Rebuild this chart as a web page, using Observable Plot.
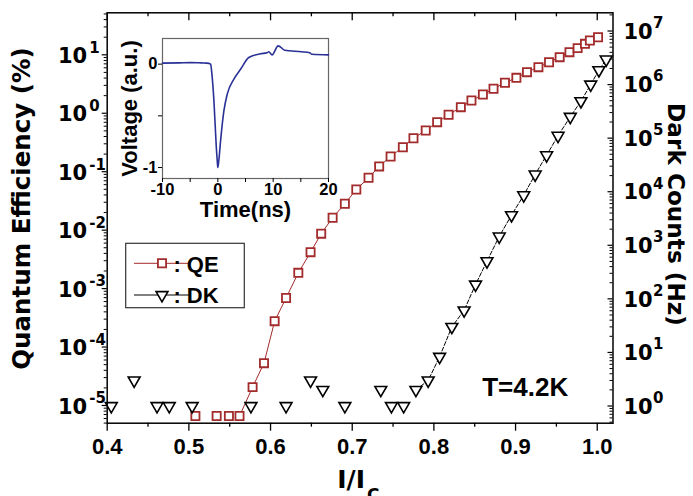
<!DOCTYPE html>
<html><head><meta charset="utf-8">
<script src="https://cdn.jsdelivr.net/npm/d3@7"></script>
<script src="https://cdn.jsdelivr.net/npm/@observablehq/plot@0.6"></script>
<style>
html,body{margin:0;padding:0;background:#fff}
#wrap{position:relative;width:693px;height:496px;overflow:hidden;background:#fff}
#wrap svg{position:absolute}
</style></head><body><div id="wrap"></div>
<script>
// ---------------- data ----------------
const qeRatio = [0.508,0.534,0.549,0.562,0.578,0.592,0.605,0.619,0.634,0.649,0.662,0.676,0.691,0.705,0.720,0.733,0.747,0.762,0.775,0.790,0.804,0.818,0.833,0.846,0.860,0.873,0.887,0.901,0.914,0.928,0.941,0.954,0.966,0.976,0.985,0.991,1.001];
const qe = [6.6e-6,6.6e-6,6.6e-6,6.6e-6,2.06e-5,5.3e-5,2.77e-4,6.9e-4,1.86e-3,4.2e-3,8.7e-3,0.0163,0.0283,0.0496,0.0787,0.123,0.182,0.262,0.374,0.507,0.703,0.941,1.27,1.65,2.09,2.62,3.32,4.04,5.04,6.14,7.47,9.10,11.1,13.0,15.4,17.6,20.0];
const dkRatio = [0.405,0.433,0.461,0.476,0.504,0.576,0.619,0.649,0.664,0.691,0.735,0.748,0.763,0.778,0.793,0.807,0.822,0.837,0.851,0.865,0.880,0.895,0.910,0.924,0.938,0.952,0.967,0.980,0.992,1.002,1.011];
const dk = [1,3,1,1,1,1,1,3,2,1,2,1,1,2,3,8.3,30,61,185,505,1460,3650,8610,2.1e4,4.8e4,1.11e5,2.5e5,4.9e5,1.0e6,1.86e6,2.94e6];
const seriesNames = ["QE", "DK"];
const timeNs = [-10,-7,-5,-3,-2,-1.3,-1.1,-0.7,-0.3,-0.1,0,0.2,0.5,1.1,1.7,2.9,4.1,5.6,7.7,8.9,9.2,9.8,10.9,12.1,15.1,16.6,17,20];
const voltage = [0.01,0.012,0.015,0.012,0.01,0.0,-0.08,-0.36,-0.78,-0.94,-1.0,-0.92,-0.74,-0.45,-0.29,-0.145,-0.05,0.064,0.10,0.11,0.12,0.09,0.177,0.135,0.12,0.11,0.095,0.09];
const xMajor = [0.4,0.5,0.6,0.7,0.8,0.9,1.0];
const xMinor = [0.45,0.55,0.65,0.75,0.85,0.95];
const leftExp = [-5,-4,-3,-2,-1,0,1];
const rightExp = [0,1,2,3,4,5,6,7];
const insetXTicks = [-10,-5,0,5,10,15,20];
const insetYTicks = [-1,-0.5,0];
const titleLeft = "Quantum Efficiency (%)";
const titleRight = "Dark Counts (Hz)";
const annotation = "T=4.2K";

// ---------------- layout ----------------
const W = 693, H = 496;
const mL = 106.7, mR = 80.5, mT = 12.3, mB = 73.3;
const frameW = W - mL - mR, frameH = H - mT - mB;
const lLo = -5.303, lHi = 1.7186;   // left log10 domain
const rLo = -0.321, rHi = 7.34;     // right log10 domain
const toLeft = v => Math.pow(10, lLo + (Math.log10(v) - rLo) * (lHi - lLo) / (rHi - rLo));

const QE_COLOR = "#a32b2b";
const ARIAL = "'Liberation Sans', Arial, sans-serif";
const DEJAVU = "'DejaVu Sans', sans-serif";

const triDown = {
  draw(ctx, size) {
    const y = -Math.sqrt(size / (Math.sqrt(3) * 3));
    ctx.moveTo(0, -2 * y);
    ctx.lineTo(-Math.sqrt(3) * y, y);
    ctx.lineTo(Math.sqrt(3) * y, y);
    ctx.closePath();
  }
};

const yMajor = leftExp.map(e => Math.pow(10, e));
const yMinor = [];
for (let e = -6; e <= 1; e++) for (let m = 2; m <= 9; m++) {
  const v = m * Math.pow(10, e);
  if (Math.log10(v) > lLo && Math.log10(v) < lHi) yMinor.push(v);
}
const rMajor = rightExp.map(e => toLeft(Math.pow(10, e)));
const rMinor = [];
for (let e = -1; e <= 7; e++) for (let m = 2; m <= 9; m++) {
  const lv = e + Math.log10(m);
  if (lv > rLo && lv < rHi) rMinor.push(toLeft(Math.pow(10, lv)));
}
const sup = e => String(e);

const qeIdx = d3.range(qe.length);
const dkIdx = d3.range(dk.length);
const qeLineIdx = qeIdx.filter(i => i >= 3);
const dkLineIdx = dkIdx.filter(i => i >= 13);

const main = Plot.plot({
  width: W, height: H,
  marginLeft: mL, marginRight: mR, marginTop: mT, marginBottom: mB,
  style: {fontFamily: ARIAL, background: "transparent", color: "black"},
  x: {domain: [0.4, 1.0193]},
  y: {type: "log", domain: [Math.pow(10, lLo), Math.pow(10, lHi)]},
  marks: [
    // lines
    Plot.line(qeLineIdx, {x: i => qeRatio[i], y: i => qe[i], stroke: QE_COLOR, strokeWidth: 1}),
    Plot.line(dkLineIdx, {x: i => dkRatio[i], y: i => toLeft(dk[i]), stroke: "black", strokeWidth: 1, strokeDasharray: "4,2"}),
    // markers
    Plot.dot(qeIdx, {x: i => qeRatio[i], y: i => qe[i], symbol: "square", r: 4.6, stroke: QE_COLOR, fill: "white", strokeWidth: 1.8}),
    Plot.dot(dkIdx, {x: i => dkRatio[i], y: i => toLeft(dk[i]), symbol: triDown, r: 4.4, stroke: "black", fill: "white", strokeWidth: 1.6}),
    // frame
    Plot.frame({stroke: "black", strokeWidth: 1.5}),
    // bottom axis
    Plot.axisX(xMajor, {anchor: "bottom", tickSize: 8, strokeWidth: 1.3, tickPadding: 6.7,
      tickFormat: d => d.toFixed(1), fontSize: 22, fontWeight: "bold", fontFamily: ARIAL, label: null}),
    Plot.axisX(xMinor, {anchor: "bottom", tickSize: 4, strokeWidth: 1.3, fill: "none", label: null}),
    // top inward ticks
    Plot.tickX(xMajor, {x: d => d, insetBottom: frameH - 8, stroke: "black", strokeWidth: 1.3}),
    Plot.tickX(xMinor, {x: d => d, insetBottom: frameH - 4, stroke: "black", strokeWidth: 1.3}),
    // left axis (outward ticks)
    Plot.axisY(yMajor, {anchor: "left", tickSize: 5, strokeWidth: 1.2, fill: "none", label: null}),
    Plot.axisY(yMinor, {anchor: "left", tickSize: 3, strokeWidth: 1, fill: "none", label: null}),
    Plot.text(yMajor, {y: d => d, frameAnchor: "left", text: () => "10", dx: -49.2, dy: 1.5, textAnchor: "start",
      fontSize: 21, fontWeight: "bold", fontFamily: DEJAVU}),
    Plot.text(leftExp, {y: e => Math.pow(10, e), frameAnchor: "left", text: e => sup(e), dx: -18, dy: -7, textAnchor: "start",
      fontSize: 15, fontWeight: "bold", fontFamily: DEJAVU}),
    // right axis (inward ticks)
    Plot.tickY(rMajor, {y: d => d, insetLeft: frameW - 5, stroke: "black", strokeWidth: 1.2}),
    Plot.tickY(rMinor, {y: d => d, insetLeft: frameW - 3, stroke: "black", strokeWidth: 1}),
    Plot.text(rightExp, {y: e => toLeft(Math.pow(10, e)), frameAnchor: "right", text: () => "10", dx: 10.5, dy: 1, textAnchor: "start",
      fontSize: 21, fontWeight: "bold", fontFamily: DEJAVU}),
    Plot.text(rightExp, {y: e => toLeft(Math.pow(10, e)), frameAnchor: "right", text: e => sup(e), dx: 40, dy: -8, textAnchor: "start",
      fontSize: 15, fontWeight: "bold", fontFamily: DEJAVU}),
    // axis titles
    Plot.text([titleLeft], {text: d => d, frameAnchor: "left", textAnchor: "middle", dx: -85.3, dy: -9.5, rotate: -90,
      fontSize: 24.5, fontWeight: "bold", fontFamily: DEJAVU}),
    Plot.text([titleRight], {text: d => d, frameAnchor: "right", textAnchor: "middle", dx: 62.9, dy: -3.5, rotate: 90,
      fontSize: 23.2, fontWeight: "bold", fontFamily: DEJAVU}),
    Plot.text(["I/I"], {text: d => d, frameAnchor: "bottom", dx: -22.9, dy: 64.3, lineAnchor: "bottom", textAnchor: "start",
      fontSize: 25, fontWeight: "bold", fontFamily: DEJAVU}),
    Plot.text(["C"], {text: d => d, frameAnchor: "bottom", dx: 6.8, dy: 78, lineAnchor: "bottom", textAnchor: "start",
      fontSize: 17, fontWeight: "bold", fontFamily: DEJAVU}),
    // annotation
    Plot.text([annotation], {text: d => d, frameAnchor: "bottom-left", dx: 375, dy: -27.4, lineAnchor: "bottom", textAnchor: "start",
      fontSize: 26, fontWeight: "bold", fontFamily: ARIAL})
  ]
});
main.style.left = "0px"; main.style.top = "0px";
document.getElementById("wrap").appendChild(main);

// ---------------- legend ----------------
const svg = d3.select(main);
const lg = svg.append("g");
lg.append("rect").attr("x", 125.7).attr("y", 243.3).attr("width", 118.6).attr("height", 64.4)
  .attr("fill", "white").attr("stroke", "#333").attr("stroke-width", 1.2);
const legendRows = [
  {name: seriesNames[0], color: QE_COLOR, sym: d3.symbolSquare, size: Math.PI * 4.6 * 4.6, sw: 1.8, cy: 263.3, base: 271.7},
  {name: seriesNames[1], color: "black", sym: triDown, size: Math.PI * 4.4 * 4.4, sw: 1.6, cy: 295, base: 303.3}
];
for (const r of legendRows) {
  lg.append("line").attr("x1", 134).attr("x2", 190).attr("y1", r.cy).attr("y2", r.cy)
    .attr("stroke", r.color).attr("stroke-width", 1);
  lg.append("path").attr("d", d3.symbol(r.sym, r.size)()).attr("transform", `translate(162,${r.cy})`)
    .attr("fill", "white").attr("stroke", r.color).attr("stroke-width", r.sw);
  lg.append("text").attr("x", 196).attr("y", r.base).text(": " + r.name)
    .attr("font-family", ARIAL).attr("font-weight", "bold").attr("font-size", 22).attr("fill", "black");
}

// ---------------- inset ----------------
const iL = 60, iT = 10, iW = 166, iH = 140;
const inset = Plot.plot({
  width: iW + iL + 10, height: iH + iT + 50,
  marginLeft: iL, marginRight: 10, marginTop: iT, marginBottom: 50,
  style: {fontFamily: ARIAL, background: "transparent", color: "black", overflow: "visible"},
  x: {domain: [-10, 20]},
  y: {domain: [-1.106, 0.248]},
  marks: [
    Plot.frame({fill: "white", stroke: "#666", strokeWidth: 1.2}),
    Plot.axisX(insetXTicks, {anchor: "bottom", tickSize: 4, tickPadding: 0.5, tickFormat: d => d % 10 === 0 ? String(d) : "",
      fontSize: 16.5, fontWeight: "bold", label: null, strokeWidth: 1}),
    Plot.axisY(insetYTicks, {anchor: "left", tickSize: 4, tickPadding: 1, tickFormat: d => d === -0.5 ? "" : String(d),
      fontSize: 16.5, fontWeight: "bold", label: null, strokeWidth: 1}),
    Plot.line(d3.range(timeNs.length), {x: i => timeNs[i], y: i => voltage[i], stroke: "#2a3196", strokeWidth: 1.6, curve: "monotone-x"}),
    Plot.text(["Time(ns)"], {text: d => d, frameAnchor: "bottom", dy: 38.3, lineAnchor: "bottom", fontSize: 22, fontWeight: "bold"}),
    Plot.text(["Voltage (a.u.)"], {text: d => d, frameAnchor: "left", textAnchor: "middle", dx: -32.7, rotate: -90, fontSize: 22, fontWeight: "bold"})
  ]
});
inset.style.left = (161.7 - iL) + "px";
inset.style.top = (37.7 - iT) + "px";
document.getElementById("wrap").appendChild(inset);
</script>
</body></html>
